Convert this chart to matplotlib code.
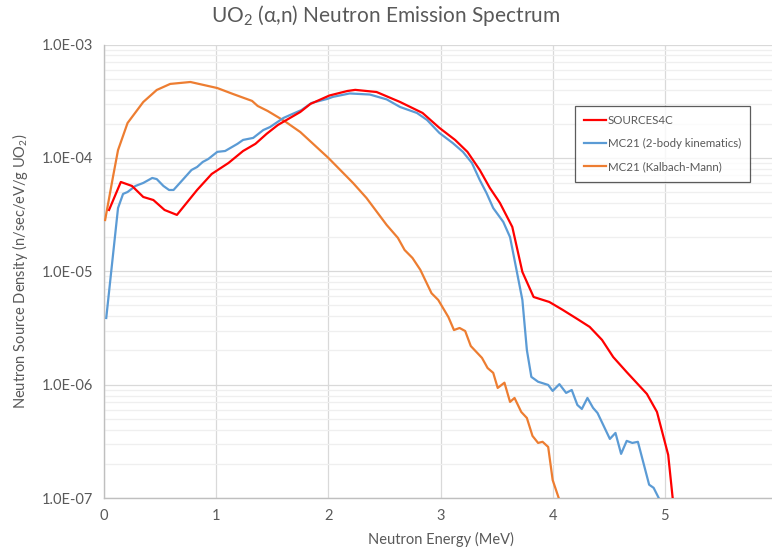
import math
import matplotlib
matplotlib.use("Agg")
import matplotlib.pyplot as plt
from matplotlib.ticker import FixedLocator, FuncFormatter, LogLocator, NullFormatter

plt.rcParams['font.family'] = ['Lato', 'DejaVu Sans']
plt.rcParams['mathtext.fontset'] = 'custom'
plt.rcParams['mathtext.rm'] = 'Lato'
plt.rcParams['mathtext.it'] = 'Lato:italic'

# SOURCES4C
src_x = [0.045, 0.15, 0.25, 0.35, 0.44, 0.54, 0.65, 0.83, 0.96, 1.11, 1.24, 1.35, 1.45, 1.55,
         1.75, 1.84, 2.01, 2.17, 2.24, 2.43, 2.64, 2.84, 2.99, 3.13, 3.24, 3.35, 3.44, 3.53,
         3.64, 3.73, 3.83, 3.97, 4.09, 4.22, 4.33, 4.44, 4.54, 4.66, 4.84, 4.93, 5.03, 5.08]
src_y = [3.47e-5, 6.13e-5, 5.65e-5, 4.52e-5, 4.25e-5, 3.47e-5, 3.14e-5, 5.21e-5, 7.21e-5, 9.02e-5,
         1.15e-4, 1.33e-4, 1.63e-4, 1.95e-4, 2.54e-4, 2.99e-4, 3.55e-4, 3.89e-4, 3.98e-4, 3.81e-4,
         3.11e-4, 2.49e-4, 1.84e-4, 1.44e-4, 1.13e-4, 7.82e-5, 5.43e-5, 4.0e-5, 2.46e-5, 9.86e-6,
         5.93e-6, 5.36e-6, 4.56e-6, 3.79e-6, 3.23e-6, 2.48e-6, 1.75e-6, 1.29e-6, 8.28e-7, 5.74e-7,
         2.40e-7, 8.0e-8]

# MC21 (2-body kinematics)
tb_x = [0.02, 0.125, 0.17, 0.21, 0.28, 0.35, 0.43, 0.47, 0.53, 0.58, 0.62, 0.70, 0.78, 0.83,
        0.88, 0.93, 1.01, 1.08, 1.19, 1.24, 1.33, 1.42, 1.48, 1.60, 1.68, 1.76, 1.85, 1.99,
        2.04, 2.19, 2.37, 2.52, 2.64, 2.79, 2.88, 2.99, 3.11, 3.20, 3.28, 3.35, 3.41, 3.47,
        3.56, 3.62, 3.66, 3.73, 3.77, 3.81, 3.87, 3.96, 4.00, 4.06, 4.12, 4.17, 4.22, 4.26,
        4.31, 4.36, 4.40, 4.51, 4.56, 4.61, 4.66, 4.71, 4.76, 4.86, 4.90, 4.95, 4.97]
tb_y = [3.87e-6, 3.61e-5, 4.81e-5, 5.0e-5, 5.65e-5, 6.01e-5, 6.65e-5, 6.5e-5, 5.65e-5, 5.21e-5,
        5.21e-5, 6.38e-5, 7.82e-5, 8.31e-5, 9.2e-5, 9.78e-5, 1.13e-4, 1.15e-4, 1.33e-4, 1.44e-4,
        1.50e-4, 1.76e-4, 1.87e-4, 2.25e-4, 2.44e-4, 2.64e-4, 3.05e-4, 3.31e-4, 3.45e-4, 3.70e-4,
        3.62e-4, 3.28e-4, 2.81e-4, 2.49e-4, 2.16e-4, 1.66e-4, 1.35e-4, 1.13e-4, 9.02e-5, 6.38e-5,
        4.9e-5, 3.61e-5, 2.72e-5, 2.0e-5, 1.26e-5, 5.58e-6, 2.02e-6, 1.17e-6, 1.06e-6, 9.94e-7,
        8.8e-7, 1.01e-6, 8.45e-7, 8.97e-7, 6.62e-7, 6.1e-7, 7.63e-7, 6.24e-7, 5.62e-7, 3.32e-7,
        3.75e-7, 2.45e-7, 3.19e-7, 3.06e-7, 3.13e-7, 1.31e-7, 1.23e-7, 9.8e-8, 8.0e-8]

# MC21 (Kalbach-Mann)
km_x = [0.01, 0.08, 0.125, 0.21, 0.35, 0.47, 0.59, 0.77, 1.01, 1.15, 1.32, 1.37, 1.46, 1.61,
        1.75, 2.00, 2.22, 2.34, 2.52, 2.62, 2.68, 2.75, 2.82, 2.92, 2.98, 3.07, 3.12, 3.17,
        3.22, 3.27, 3.37, 3.42, 3.47, 3.51, 3.57, 3.62, 3.66, 3.72, 3.77, 3.82, 3.87, 3.91,
        3.96, 4.00, 4.06, 4.07]
km_y = [2.83e-5, 6.79e-5, 1.17e-4, 2.03e-4, 3.11e-4, 3.97e-4, 4.49e-4, 4.67e-4, 4.13e-4, 3.66e-4,
        3.18e-4, 2.87e-4, 2.59e-4, 2.11e-4, 1.69e-4, 1.0e-4, 6.01e-5, 4.43e-5, 2.56e-5, 1.97e-5,
        1.54e-5, 1.31e-5, 1.03e-5, 6.4e-6, 5.58e-6, 3.95e-6, 3.03e-6, 3.16e-6, 2.97e-6, 2.19e-6,
        1.72e-6, 1.40e-6, 1.27e-6, 9.35e-7, 1.04e-6, 7.04e-7, 7.63e-7, 5.74e-7, 5.08e-7, 3.53e-7,
        3.06e-7, 3.13e-7, 2.82e-7, 1.44e-7, 9.6e-8, 8.0e-8]

x_ticks = [0, 1, 2, 3, 4, 5, 6]
y_ticks = [1e-7, 1e-6, 1e-5, 1e-4, 1e-3]
series_names = ["SOURCES4C", "MC21 (2-body kinematics)", "MC21 (Kalbach-Mann)"]
text_col = '#595959'

fig = plt.figure(figsize=(7.72, 5.57), dpi=100)
ax = fig.add_axes([104/772, 1-498/557, 673/772, (498-44.5)/557])

ax.plot(src_x, src_y, color='#FF0000', lw=1.6, label=series_names[0], zorder=5)
ax.plot(tb_x, tb_y, color='#5B9BD5', lw=1.6, label=series_names[1], zorder=4)
ax.plot(km_x, km_y, color='#ED7D31', lw=1.6, label=series_names[2], zorder=3)

ax.set_yscale('log')
ax.set_xlim(0, 6)
ax.set_ylim(1e-7, 1e-3)
ax.xaxis.set_major_locator(FixedLocator(x_ticks))
ax.yaxis.set_major_locator(FixedLocator(y_ticks))
ax.yaxis.set_minor_locator(LogLocator(base=10, subs=range(2, 10)))
ax.yaxis.set_minor_formatter(NullFormatter())
ax.yaxis.set_major_formatter(FuncFormatter(lambda v, p: "1.0E-%02d" % round(-math.log10(v))))

ax.grid(True, which='major', axis='both', color='#d9d9d9', lw=0.9)
ax.grid(True, which='minor', axis='y', color='#efefef', lw=0.9)
ax.set_axisbelow(True)
for s in ['top', 'right']:
    ax.spines[s].set_visible(False)
for s in ['left', 'bottom']:
    ax.spines[s].set_color('#bfbfbf')
    ax.spines[s].set_linewidth(1.0)
ax.tick_params(which='both', length=0, colors=text_col, labelsize=10.5)
ax.tick_params(axis='x', pad=8)
ax.tick_params(axis='y', pad=8)

ax.set_xlabel("Neutron Energy (MeV)", color=text_col, fontsize=10.5, labelpad=6)
ax.set_ylabel("Neutron Source Density (n/sec/eV/g UO$_2$)", color=text_col, fontsize=10.5, labelpad=8)
fig.text(0.5, 0.972, "UO$_2$ (\u03b1,n) Neutron Emission Spectrum", ha='center', va='center',
         fontsize=15, color=text_col)

leg = ax.legend(loc='upper left', bbox_to_anchor=(575/772, 1-106/557), bbox_transform=fig.transFigure,
                fontsize=8.3, frameon=True, fancybox=False, handlelength=1.9, handletextpad=0.15,
                borderpad=0.8, labelspacing=1.05, borderaxespad=0)
leg.get_frame().set_edgecolor('#333333')
leg.get_frame().set_linewidth(0.9)
for t in leg.get_texts():
    t.set_color(text_col)

fig.savefig('out.png', dpi=100)
